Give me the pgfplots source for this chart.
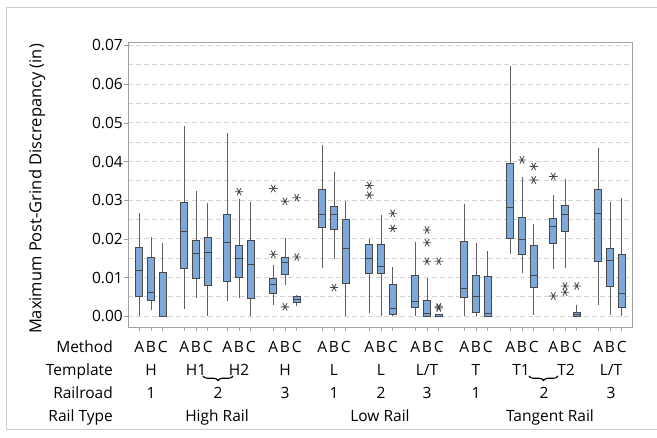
\documentclass[border=0pt]{standalone}
\usepackage{pgfplots}
\pgfplotsset{compat=1.18}
\usepgfplotslibrary{statistics}
\usetikzlibrary{decorations.pathreplacing}
\usepackage{fontspec}
\setmainfont{Open Sans}
\definecolor{boxfill}{RGB}{125,168,218}
\definecolor{boxedge}{RGB}{72,72,72}
\definecolor{whisk}{RGB}{95,95,95}
\definecolor{gridc}{RGB}{212,212,212}
\definecolor{framec}{RGB}{160,160,160}
\definecolor{outerc}{RGB}{205,205,205}
\definecolor{outc}{RGB}{70,70,70}
\newcommand{\lab}{\fontsize{15.5bp}{18bp}\selectfont}
% draw position, lower whisker, Q1, median, Q3, upper whisker, outliers
\newcommand{\bx}[7]{\addplot[boxedge, mark=asterisk, mark size=4.2bp,
  mark options={rotate=90, draw=outc, line width=0.8bp},
  boxplot prepared={draw position=#1, lower whisker=#2, lower quartile=#3,
  median=#4, upper quartile=#5, upper whisker=#6}] coordinates {#7};}
\begin{document}
\begin{tikzpicture}
\useasboundingbox (0,0) rectangle (657bp,-438bp);
\draw[outerc, line width=0.8bp] (657bp,-7bp) -- (6.5bp,-7bp) -- (6.5bp,-429bp) -- (657bp,-429bp);
\begin{axis}[
  at={(128bp,-327bp)}, anchor=south west,
  scale only axis, width=504bp, height=285bp,
  xmin=128, xmax=632, ymin=-0.0028, ymax=0.0709,
  xtick={139.3,151,162.7,184.3,196,207.7,227.3,239,250.7,273.3,285,296.7,322.3,334,345.7,369.3,381,392.7,415.3,427,438.7,464.3,476,487.7,510.3,522,533.7,553.3,565,576.7,598.3,610,621.7},
  xticklabels={},
  ytick={0,0.01,0.02,0.03,0.04,0.05,0.06,0.07},
  minor ytick={0.005,0.015,0.025,0.035,0.045,0.055,0.065},
  ymajorgrids, yminorgrids,
  major grid style={gridc, dash pattern=on 5bp off 3bp, line width=0.7bp},
  minor grid style={gridc, dash pattern=on 5bp off 3bp, line width=0.7bp},
  minor tick length=0pt,
  tick align=outside, major tick length=4bp,
  xtick pos=bottom, ytick pos=left,
  axis line style={framec, line width=0.8bp},
  every tick/.style={framec, line width=0.6bp},
  yticklabel style={font=\lab, /pgf/number format/fixed, /pgf/number format/fixed zerofill, /pgf/number format/precision=2, /pgf/number format/assume math mode=true, inner sep=1bp},
  scaled y ticks=false,
  boxplot/draw direction=y,
  boxplot/box extend=7,
  boxplot/whisker extend=0,
  boxplot/every box/.style={draw=boxedge, fill=boxfill, line width=0.8bp},
  boxplot/every whisker/.style={draw=whisk, line width=0.8bp},
  boxplot/every median/.style={draw=boxedge, line width=0.9bp},
]
% High Rail, H, RR1
\bx{139.3}{0.0}{0.0051}{0.0118}{0.0178}{0.0266}{}
\bx{151}{0.0016}{0.0041}{0.0062}{0.0153}{0.0206}{}
\bx{162.7}{0.0}{0.0}{0.0}{0.0112}{0.0188}{}
% High Rail, H1, RR2
\bx{184.3}{0.0018}{0.0123}{0.0220}{0.0295}{0.0491}{}
\bx{196}{0.0047}{0.0097}{0.0162}{0.0195}{0.0324}{}
\bx{207.7}{0.0}{0.0079}{0.0165}{0.0205}{0.0293}{}
% High Rail, H2, RR2
\bx{227.3}{0.0039}{0.0091}{0.0190}{0.0263}{0.0474}{}
\bx{239}{0.0047}{0.0100}{0.0148}{0.0183}{0.0303}{(0,0.0322)}
\bx{250.7}{0.0}{0.0047}{0.0134}{0.0195}{0.0296}{}
% High Rail, H, RR3
\bx{273.3}{0.0030}{0.0059}{0.0083}{0.0097}{0.0132}{(0,0.0330) (0,0.0160)}
\bx{285}{0.0080}{0.0109}{0.0139}{0.0153}{0.0203}{(0,0.0297) (0,0.0024)}
\bx{296.7}{0.0026}{0.0035}{0.0044}{0.0052}{0.0056}{(0,0.0306) (0,0.0153)}
% Low Rail, L, RR1
\bx{322.3}{0.0125}{0.0230}{0.0263}{0.0328}{0.0443}{}
\bx{334}{0.0149}{0.0225}{0.0263}{0.0283}{0.0372}{(0,0.0074)}
\bx{345.7}{0.0}{0.0085}{0.0175}{0.0249}{0.0298}{}
% Low Rail, L, RR2
\bx{369.3}{0.0009}{0.0110}{0.0149}{0.0186}{0.0200}{(0,0.0338) (0,0.0313)}
\bx{381}{0.0}{0.0110}{0.0128}{0.0186}{0.0262}{}
\bx{392.7}{0.0}{0.0004}{0.0020}{0.0082}{0.0126}{(0,0.0266) (0,0.0227)}
% Low Rail, L/T, RR3
\bx{415.3}{0.0}{0.0022}{0.0037}{0.0106}{0.0191}{}
\bx{427}{0.0}{0.0}{0.0007}{0.0041}{0.0098}{(0,0.0223) (0,0.0190) (0,0.0142)}
\bx{438.7}{0.0}{0.0}{0.0}{0.0004}{0.0004}{(0,0.0142) (0,0.0024) (0,0.0021)}
% Tangent Rail, T, RR1
\bx{464.3}{0.0}{0.0048}{0.0072}{0.0193}{0.0289}{}
\bx{476}{0.0}{0.0009}{0.0052}{0.0106}{0.0188}{}
\bx{487.7}{0.0}{0.0}{0.0007}{0.0104}{0.0168}{}
% Tangent Rail, T1, RR2
\bx{510.3}{0.0162}{0.0201}{0.0281}{0.0396}{0.0646}{}
\bx{522}{0.0112}{0.0160}{0.0199}{0.0256}{0.0359}{(0,0.0404)}
\bx{533.7}{0.0003}{0.0074}{0.0106}{0.0182}{0.0238}{(0,0.0387) (0,0.0352)}
% Tangent Rail, T2, RR2
\bx{553.3}{0.0123}{0.0188}{0.0232}{0.0253}{0.0313}{(0,0.0361) (0,0.0052)}
\bx{565}{0.0125}{0.0220}{0.0263}{0.0287}{0.0354}{(0,0.0078) (0,0.0062)}
\bx{576.7}{0.0}{0.0}{0.0005}{0.0011}{0.0028}{(0,0.0078)}
% Tangent Rail, L/T, RR3
\bx{598.3}{0.0028}{0.0142}{0.0266}{0.0328}{0.0434}{}
\bx{610}{0.0004}{0.0078}{0.0144}{0.0174}{0.0295}{}
\bx{621.7}{0.0}{0.0022}{0.0059}{0.0160}{0.0306}{}
\end{axis}
% y label
\node[rotate=90, font=\fontsize{16.5bp}{19bp}\selectfont] at (37bp,-189bp) {Maximum Post-Grind Discrepancy (in)};
% row titles
\foreach \t/\y in {Method/352, Template/375, Railroad/398, Rail Type/421}
  \node[anchor=base east, font=\lab, inner sep=0pt] at (113bp,-\y bp) {\t};
% method letters
\foreach \c in {151,196,239,285,334,381,427,476,522,565,610} {
  \node[anchor=base, font=\lab, inner sep=0pt] at ({(\c-11.7)*1bp},-352bp) {A};
  \node[anchor=base, font=\lab, inner sep=0pt] at ({\c*1bp},-352bp) {B};
  \node[anchor=base, font=\lab, inner sep=0pt] at ({(\c+11.7)*1bp},-352bp) {C};
}
% templates
\foreach \x/\t in {151/H, 196/H1, 239/H2, 285/H, 334/L, 381/L, 427/L\slash T, 476/T, 521/T1, 566/T2, 611/L\slash T}
  \node[anchor=base, font=\lab, inner sep=0pt] at (\x bp,-375bp) {\t};
% braces
\draw[line width=1.1bp, decorate, decoration={brace, mirror, amplitude=4.5bp}] (203bp,-376bp) -- (233bp,-376bp);
\draw[line width=1.1bp, decorate, decoration={brace, mirror, amplitude=4.5bp}] (529bp,-376bp) -- (558bp,-376bp);
% railroads
\foreach \x/\t in {151/1, 218/2, 285/3, 334/1, 381/2, 427/3, 476/1, 544/2, 611/3}
  \node[anchor=base, font=\lab, inner sep=0pt] at (\x bp,-398bp) {\t};
% rail types
\foreach \x/\t in {217/High Rail, 380/Low Rail, 550/Tangent Rail}
  \node[anchor=base, font=\lab, inner sep=0pt] at (\x bp,-421bp) {\t};
\end{tikzpicture}
\end{document}
